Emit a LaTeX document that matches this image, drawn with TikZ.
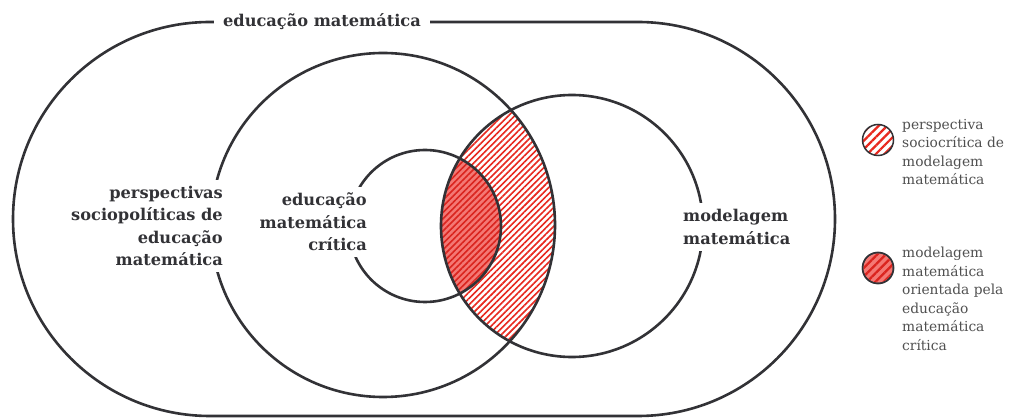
\documentclass[tikz,border=0pt]{standalone}
\usepackage{fontspec}
\setmainfont{DejaVu Serif}
\usetikzlibrary{patterns.meta}
\definecolor{ink}{RGB}{50,50,54}
\definecolor{hatch}{RGB}{232,40,30}
\definecolor{pinkfill}{RGB}{244,120,116}
\definecolor{hatchdark}{RGB}{218,36,30}
\definecolor{legtext}{RGB}{80,80,80}
\tikzset{
  outline/.style={draw=ink,line width=2.6pt},
  lbl/.style={fill=white,text=ink,font=\bfseries\fontsize{16.2}{22.5}\selectfont,inner xsep=3pt,inner ysep=6pt},
  leg/.style={text=legtext,font=\fontsize{13.8}{18.5}\selectfont,align=left,inner sep=0pt},
  hatchlight/.style={pattern={Lines[angle=45,distance=4.4pt,line width=1.6pt]},pattern color=hatch},
  hatchpink/.style={pattern={Lines[angle=45,distance=4.4pt,line width=1.6pt]},pattern color=hatchdark},
}
\begin{document}
\begin{tikzpicture}[x=1pt,y=-1pt]
\useasboundingbox[fill=white] (0,0) rectangle (1015,419);
% hatched lens
\begin{scope}
  \clip (383,225) circle[radius=172pt];
  \fill[hatchlight] (572,226) circle[radius=131pt];
  \clip (572,226) circle[radius=131pt];
  \fill[pinkfill] (425,226) circle[radius=76pt];
  \fill[hatchpink] (425,226) circle[radius=76pt];
\end{scope}
% outlines
\draw[outline] (210,22) -- (638,22) arc[start angle=90,end angle=-90,radius=197pt]
  -- (210,416) arc[start angle=270,end angle=90,radius=197pt] -- cycle;
\draw[outline] (383,225) circle[radius=172pt];
\draw[outline] (572,226) circle[radius=131pt];
\draw[outline] (425,226) circle[radius=76pt];
% labels
\node[lbl,inner xsep=9pt] (title) at (322,22) {educação matemática};
\node[lbl,align=right,anchor=east] (socio) at (226,226) {perspectivas\\sociopolíticas de\\educação\\matemática};
\node[lbl,align=right,anchor=east] (emc) at (370,222) {educação\\matemática\\crítica};
\node[lbl,align=left,anchor=west] (mm) at (680,227) {modelagem\\matemática};
% legend
\node[circle,minimum size=31pt,inner sep=0pt,draw=ink,line width=1.5pt,pattern={Lines[angle=45,distance=6pt,line width=2.2pt]},pattern color=hatch] (k1) at (878,140) {};
\node[circle,minimum size=31pt,inner sep=0pt,draw=ink,line width=1.5pt,fill=pinkfill] (k2) at (878,268) {};
\fill[pattern={Lines[angle=45,distance=6pt,line width=2.2pt]},pattern color=hatchdark] (k2.center) circle[radius=14.5pt];
\draw[ink,line width=1.5pt] (k2.center) circle[radius=15.5pt];
\node[leg,anchor=north west] (t1) at (902,119) {perspectiva\\sociocrítica de\\modelagem\\matemática};
\node[leg,anchor=north west] (t2) at (902,247) {modelagem\\matemática\\orientada pela\\educação\\matemática\\crítica};
\end{tikzpicture}
\end{document}
